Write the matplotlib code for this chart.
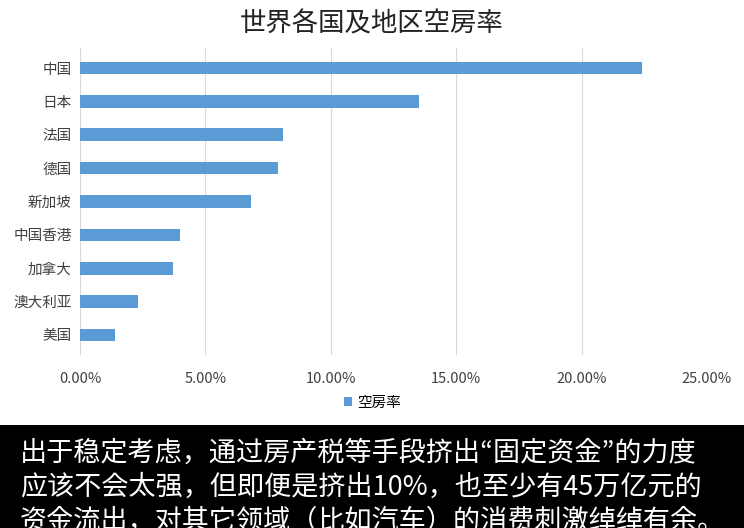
import matplotlib
matplotlib.use("Agg")
import matplotlib.pyplot as plt
from matplotlib import font_manager
from matplotlib.ticker import FuncFormatter
from matplotlib.patches import Rectangle

cjk = [f for f in font_manager.fontManager.ttflist if "CJK" in f.name]
cjk_pref = [f for f in cjk if f.name.endswith("SC")] or cjk
if cjk_pref:
    font_manager.fontManager.addfont(cjk_pref[0].fname)
    plt.rcParams["font.family"] = [cjk_pref[0].name, "DejaVu Sans"]
else:
    plt.rcParams["font.family"] = ["Noto Sans CJK SC", "DejaVu Sans"]

categories = ["中国", "日本", "法国", "德国", "新加坡", "中国香港", "加拿大", "澳大利亚", "美国"]
values = [22.4, 13.5, 8.1, 7.9, 6.8, 4.0, 3.7, 2.3, 1.4]
xticks = [0, 5, 10, 15, 20, 25]
title = "世界各国及地区空房率"
series_name = "空房率"
caption = ["出于稳定考虑，通过房产税等手段挤出“固定资金”的力度",
           "应该不会太强，但即便是挤出10%，也至少有45万亿元的",
           "资金流出，对其它领域（比如汽车）的消费刺激绰绰有余。"]

fig = plt.figure(figsize=(7.44, 5.28), dpi=100)
ax = fig.add_axes([80/744, 1-355/528, (707-80)/744, (355-48)/528])
y = list(range(len(categories)))[::-1]
ax.barh(y, values, height=0.38, color="#5B9BD5", label=series_name, zorder=3)
ax.set_yticks(y)
ax.set_yticklabels(categories, fontsize=10.5)
ax.set_xlim(0, 25)
ax.set_ylim(-0.6, len(categories) - 0.4)
ax.set_xticks(xticks)
ax.xaxis.set_major_formatter(FuncFormatter(lambda v, p: f"{v:.2f}%"))
ax.tick_params(axis="x", labelsize=10.5, length=0, pad=12)
ax.tick_params(axis="y", length=0, pad=6)
ax.grid(axis="x", color="#d9d9d9", linewidth=0.8, zorder=0)
for s in ax.spines.values():
    s.set_visible(False)
for lab in ax.get_xticklabels() + ax.get_yticklabels():
    lab.set_color("#404040")

fig.text(0.5, 1-24/528, title, ha="center", va="center", fontsize=19, color="#222222")
fig.legend(loc="center", bbox_to_anchor=(0.5, 1-403/528), frameon=False,
           fontsize=10.5, handlelength=0.6, handleheight=0.6, handletextpad=0.3)

fig.patches.append(Rectangle((0, 0), 1, 1-425/528, transform=fig.transFigure,
                             facecolor="black", edgecolor="none", zorder=0))
for i, line in enumerate(caption):
    fig.text(20/744, 1-(453 + 34*i)/528, line, ha="left", va="center",
             fontsize=19.5, color="white")

fig.savefig("out.png", dpi=100)
